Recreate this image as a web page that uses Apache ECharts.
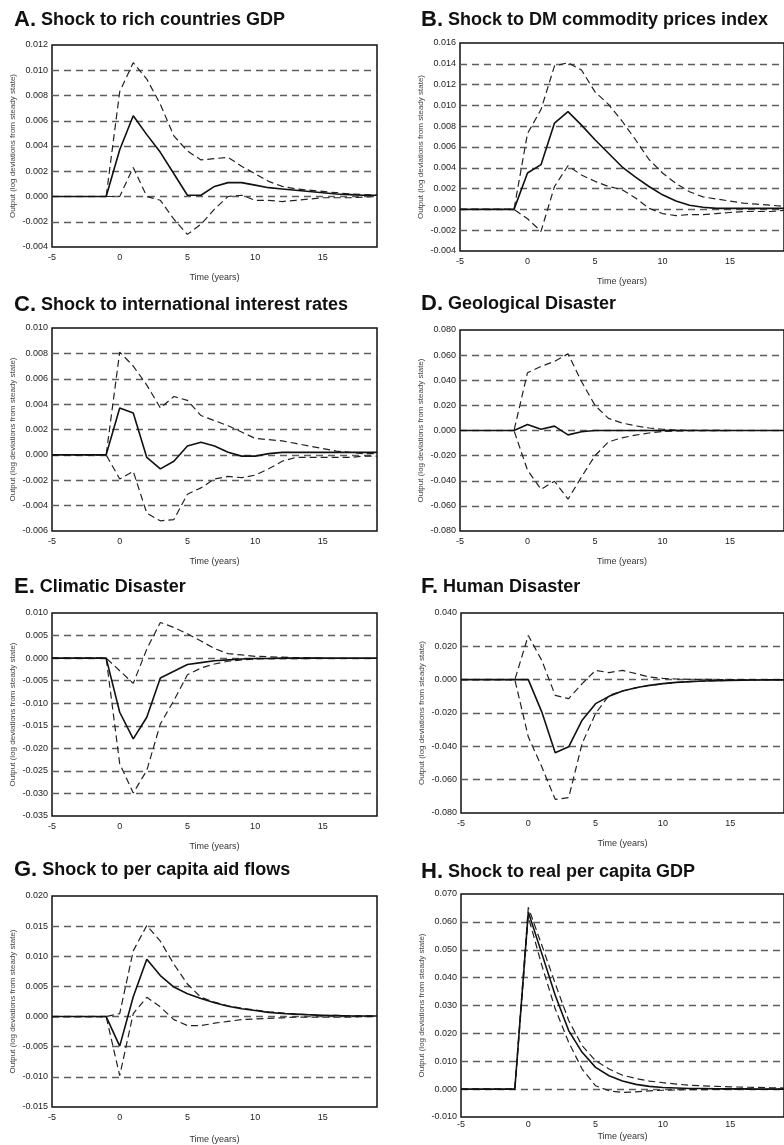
<!DOCTYPE html>
<html>
<head>
<meta charset="utf-8">
<script src="https://cdn.jsdelivr.net/npm/echarts@6/dist/echarts.min.js"></script>
<style>
html, body { margin: 0; padding: 0; background: #fff; overflow: hidden; }
#chart { width: 784px; height: 1145px; }
</style>
</head>
<body>
<div id="chart"></div>
<script>
const years = [-5, -4, -3, -2, -1, 0, 1, 2, 3, 4, 5, 6, 7, 8, 9, 10, 11, 12, 13, 14, 15, 16, 17, 18, 19];

const titles = [
  ['A.', 'Shock to rich countries GDP'],
  ['B.', 'Shock to DM commodity prices index'],
  ['C.', 'Shock to international interest rates'],
  ['D.', 'Geological Disaster'],
  ['E.', 'Climatic Disaster'],
  ['F.', 'Human Disaster'],
  ['G.', 'Shock to per capita aid flows'],
  ['H.', 'Shock to real per capita GDP'],
];

// y axis: [min, max, interval]
const yRanges = [
  [-0.004, 0.012, 0.002],
  [-0.004, 0.016, 0.002],
  [-0.006, 0.010, 0.002],
  [-0.080, 0.080, 0.020],
  [-0.035, 0.010, 0.005],
  [-0.080, 0.040, 0.020],
  [-0.015, 0.020, 0.005],
  [-0.010, 0.070, 0.010],
];

// A. rich countries GDP
const aMed = [0, 0, 0, 0, 0, 0.0037, 0.0064, 0.0049, 0.0035, 0.0018, 0.0001, 0.0001, 0.0008, 0.0011, 0.0011, 0.0009, 0.0007, 0.0006, 0.0005, 0.0004, 0.0003, 0.0002, 0.00015, 0.0001, 0.0001];
const aUp = [0, 0, 0, 0, 0, 0.0083, 0.0106, 0.0093, 0.0073, 0.0048, 0.0036, 0.0029, 0.003, 0.0031, 0.0024, 0.0018, 0.0012, 0.0008, 0.0006, 0.0005, 0.0004, 0.0003, 0.0002, 0.00015, 0.0001];
const aLo = [0, 0, 0, 0, 0, 0, 0.0023, 0.0000, -0.0003, -0.0018, -0.003, -0.0022, -0.001, 0.0000, 0.0001, -0.0003, -0.0003, -0.0004, -0.0003, -0.0002, -0.0001, -0.0001, -0.0001, -0.00005, 0];

// B. commodity prices
const bMed = [0, 0, 0, 0, 0, 0.0035, 0.0043, 0.0083, 0.0094, 0.0081, 0.0067, 0.0054, 0.0041, 0.0031, 0.0022, 0.0014, 0.0008, 0.0004, 0.0002, 0.0001, 0.0001, 0.0001, 0.0001, 0.0001, 0.0001];
const bUp = [0, 0, 0, 0, 0, 0.0073, 0.0096, 0.0138, 0.0141, 0.0134, 0.0113, 0.0101, 0.0085, 0.0067, 0.0048, 0.0035, 0.0025, 0.0017, 0.0012, 0.001, 0.0008, 0.0006, 0.0005, 0.0004, 0.0003];
const bLo = [0, 0, 0, 0, 0, -0.0009, -0.0021, 0.0022, 0.0042, 0.0033, 0.0027, 0.0022, 0.0019, 0.0011, 0.0001, -0.0004, -0.0006, -0.0005, -0.0005, -0.0004, -0.0003, -0.0002, -0.0002, -0.0002, -0.0001];

// C. interest rates
const cMed = [0, 0, 0, 0, 0, 0.0037, 0.0033, -0.0002, -0.0011, -0.0005, 0.0007, 0.001, 0.0007, 0.0002, -0.0001, -0.0001, 0.0001, 0.0002, 0.0002, 0.0002, 0.0002, 0.0002, 0.0002, 0.0002, 0.0002];
const cUp = [0, 0, 0, 0, 0, 0.0081, 0.007, 0.0055, 0.0037, 0.0046, 0.0043, 0.0031, 0.0027, 0.0023, 0.0018, 0.0013, 0.0012, 0.0011, 0.0009, 0.0007, 0.0005, 0.0003, 0.0002, 0.0001, 0.0001];
const cLo = [0, 0, 0, 0, 0, -0.0019, -0.0013, -0.0046, -0.0052, -0.0051, -0.0031, -0.0026, -0.0019, -0.0017, -0.0018, -0.0016, -0.0011, -0.0005, -0.0002, -0.0002, -0.0002, -0.0002, -0.0002, -0.0001, -0.0001];

// D. geological
const dMed = [0, 0, 0, 0, 0, 0.0048, 0.001, 0.0035, -0.0035, -0.001, 0, 0, 0, 0, 0, 0, 0, 0, 0, 0, 0, 0, 0, 0, 0];
const dUp = [0, 0, 0, 0, 0, 0.046, 0.051, 0.055, 0.061, 0.039, 0.020, 0.0096, 0.006, 0.0037, 0.002, 0.001, 0.0003, 0.0002, 0.0001, 0.0001, 0, null, null, null, null];
const dLo = [0, 0, 0, 0, 0, -0.0316, -0.0468, -0.0404, -0.0547, -0.037, -0.020, -0.009, -0.0058, -0.0037, -0.002, -0.0008, -0.0003, -0.0002, -0.0001, -0.0001, 0, null, null, null, null];

// E. climatic
const eMed = [0, 0, 0, 0, 0, -0.012, -0.0179, -0.0131, -0.0044, -0.0029, -0.0014, -0.001, -0.0006, -0.0004, -0.0002, -0.0001, -0.0001, 0, 0, 0, 0, 0, 0, 0, 0];
const eUp = [0, 0, 0, 0, 0, -0.0028, -0.0056, 0.002, 0.0079, 0.0068, 0.0054, 0.0038, 0.0021, 0.001, 0.0007, 0.0004, 0.0003, 0.0002, 0.0001, 0.0001, 0, null, null, null, null];
const eLo = [0, 0, 0, 0, 0, -0.0234, -0.0299, -0.0249, -0.0146, -0.0094, -0.0037, -0.0022, -0.0013, -0.0007, -0.0004, -0.0002, -0.0001, -0.0001, -0.0001, -0.0001, 0, null, null, null, null];

// F. human
const fMed = [0, 0, 0, 0, 0, 0, -0.0193, -0.0439, -0.0403, -0.0243, -0.0144, -0.01, -0.0068, -0.0048, -0.0034, -0.0024, -0.0016, -0.0012, -0.0008, -0.0006, -0.0004, -0.0003, -0.0002, -0.0001, -0.0001];
const fUp = [0, 0, 0, 0, 0, 0.0265, 0.0116, -0.0094, -0.0114, -0.0024, 0.0056, 0.0042, 0.0056, 0.0036, 0.0016, 0.0008, 0.0004, 0.0002, 0.0002, 0.0001, 0.0001, 0.0001, 0.0001, 0, 0];
const fLo = [0, 0, 0, 0, 0, -0.0343, -0.0523, -0.0718, -0.0708, -0.0383, -0.0203, -0.0094, -0.0068, -0.0049, -0.0035, -0.0025, -0.0017, -0.0012, -0.0009, -0.0006, -0.0004, -0.0003, -0.0002, -0.0001, -0.0001];

// G. aid flows
const gMed = [0, 0, 0, 0, 0, -0.0049, 0.0033, 0.0095, 0.0068, 0.0049, 0.0038, 0.003, 0.0023, 0.0017, 0.0013, 0.001, 0.0007, 0.0005, 0.0004, 0.0003, 0.0002, 0.00015, 0.0001, 0.0001, 0.0001];
const gUp = [0, 0, 0, 0, 0, 0.0005, 0.0109, 0.0151, 0.0125, 0.0087, 0.0054, 0.0032, 0.0024, 0.0018, 0.0014, 0.0011, 0.0008, 0.0006, 0.0004, 0.0003, 0.0002, 0.0002, 0.0001, 0.0001, 0.0001];
const gLo = [0, 0, 0, 0, 0, -0.0098, 0.0005, 0.0032, 0.0016, -0.0005, -0.0015, -0.0015, -0.0011, -0.0008, -0.0005, -0.0004, -0.0003, -0.0002, -0.0001, -0.0001, -0.0001, -0.0001, -0.0001, 0, 0];

// H. real per capita GDP
const hMed = [0, 0, 0, 0, 0, 0.0635, 0.0487, 0.0337, 0.021, 0.0132, 0.0078, 0.0048, 0.0029, 0.0017, 0.001, 0.0006, 0.0004, 0.0002, 0.0002, 0.0001, 0.0001, 0.0001, 0, 0, 0];
const hUp = [0, 0, 0, 0, 0, 0.0652, 0.0517, 0.0379, 0.0246, 0.0156, 0.0102, 0.0072, 0.005, 0.0038, 0.0029, 0.0023, 0.0018, 0.0014, 0.0012, 0.001, 0.0008, 0.0007, 0.0006, 0.0005, 0.0004];
const hLo = [0, 0, 0, 0, 0, 0.0619, 0.0445, 0.0288, 0.0168, 0.0072, 0.0012, -0.0006, -0.0012, -0.001, -0.0006, -0.0004, -0.0003, -0.0002, -0.0002, -0.0001, -0.0001, -0.0001, -0.0001, 0, 0];

const panels = [
  [aMed, aUp, aLo], [bMed, bUp, bLo], [cMed, cUp, cLo], [dMed, dUp, dLo],
  [eMed, eUp, eLo], [fMed, fUp, fLo], [gMed, gUp, gLo], [hMed, hUp, hLo],
];

// plot boxes [left, top, width, height]; right column runs past the page edge
const boxes = [
  [52, 45, 325, 202], [460, 43, 331, 208],
  [52, 328, 325, 203], [460, 330, 326, 201],
  [52, 613, 325, 203], [461, 613, 328, 200],
  [52, 896, 325, 215], [461, 894, 330, 223],
];
const titleTops = [4, 4, 289, 288, 571, 571, 854, 856];
const xNameGaps = [26, 26, 26, 26, 26, 26, 28, 15];
const xLabelMargins = [6, 6, 6, 6, 6, 6, 6, 3];

const font = "'Liberation Sans', Arial, sans-serif";
const toPairs = (arr) => years.map((y, i) => [y, arr[i]]);

const option = {
  animation: false,
  backgroundColor: '#fff',
  title: [],
  grid: [],
  xAxis: [],
  yAxis: [],
  series: [],
};

panels.forEach((p, k) => {
  const b = boxes[k];
  const r = yRanges[k];
  const left = k % 2 === 0 ? 9 : 416;
  option.title.push({
    text: `{l|${titles[k][0]}} {t|${titles[k][1]}}`,
    left,
    top: titleTops[k],
    textStyle: {
      fontFamily: font,
      rich: {
        l: { fontSize: 22, fontWeight: 'bold', color: '#111', fontFamily: font },
        t: { fontSize: 18, fontWeight: 'bold', color: '#111', fontFamily: font },
      },
    },
  });
  option.grid.push({
    left: b[0],
    top: b[1],
    width: b[2],
    height: b[3],
    show: true,
    borderColor: '#111',
    borderWidth: 1.5,
    backgroundColor: 'transparent',
  });
  option.xAxis.push({
    gridIndex: k,
    type: 'value',
    min: -5,
    max: 19,
    interval: 5,
    name: 'Time (years)',
    nameLocation: 'middle',
    nameGap: xNameGaps[k],
    nameTextStyle: { fontFamily: font, fontSize: 9, color: '#333' },
    axisLine: { show: false },
    axisTick: { show: false },
    splitLine: { show: false },
    axisLabel: {
      showMaxLabel: false,
      margin: xLabelMargins[k],
      fontFamily: font,
      fontSize: 9,
      color: '#222',
    },
  });
  option.yAxis.push({
    gridIndex: k,
    type: 'value',
    min: r[0],
    max: r[1],
    interval: r[2],
    name: 'Output (log deviations from steady state)',
    nameLocation: 'middle',
    nameGap: 35,
    nameTextStyle: { fontFamily: font, fontSize: 8, color: '#444' },
    axisLine: { show: false },
    axisTick: { show: false },
    axisLabel: {
      margin: 4,
      fontFamily: font,
      fontSize: 9,
      color: '#222',
      formatter: (v) => (Math.abs(v) < 1e-9 ? 0 : v).toFixed(3),
    },
    splitLine: {
      show: true,
      showMinLine: false,
      showMaxLine: false,
      lineStyle: { color: '#5e5e5e', width: 1.3, type: [7, 5] },
    },
  });
  const base = { type: 'line', xAxisIndex: k, yAxisIndex: k, showSymbol: false, silent: true };
  option.series.push({ ...base, data: toPairs(p[1]), lineStyle: { color: '#222', width: 1.2, type: [7, 4] }, z: 3 });
  option.series.push({ ...base, data: toPairs(p[2]), lineStyle: { color: '#222', width: 1.2, type: [7, 4] }, z: 3 });
  option.series.push({ ...base, data: toPairs(p[0]), lineStyle: { color: '#111', width: 1.6 }, z: 4 });
});

const myChart = echarts.init(document.getElementById('chart'));
myChart.setOption(option);
</script>
</body>
</html>
